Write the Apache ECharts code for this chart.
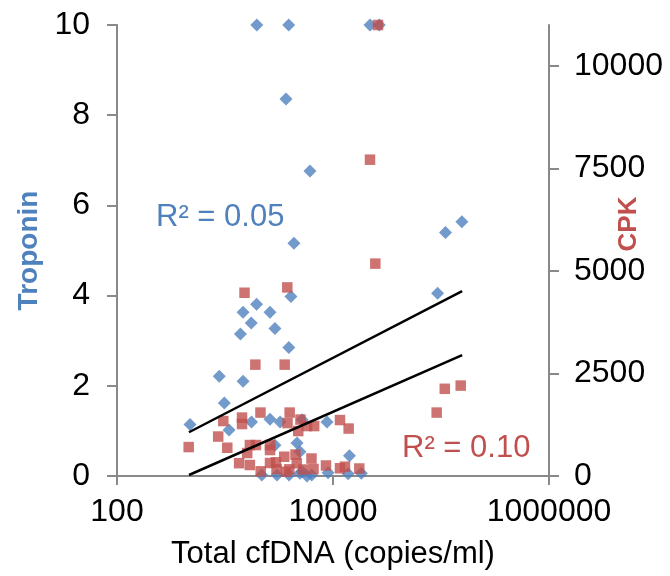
<!DOCTYPE html>
<html>
<head>
<meta charset="utf-8">
<script src="https://cdn.jsdelivr.net/npm/echarts@6.0.0/dist/echarts.min.js"></script>
<style>
  html, body { margin: 0; padding: 0; background: #fff; }
  #chart { width: 670px; height: 576px; }
</style>
</head>
<body>
<div id="chart"></div>
<script>
// Troponin (left axis) against total cfDNA
const troponinDNA = [1970, 3890, 22000, 26800, 3670, 6120, 4350, 110000, 156000, 93000,
  4080, 1960, 1470, 2610, 1750, 2900, 1390, 3900, 885, 1470,
  985, 474, 1090, 1760, 2610, 3240, 5170, 8800, 4640, 4940,
  2900, 14200, 2190, 3030, 3920, 5170, 6350, 9000, 13800, 18300,
  4950, 5740];
const troponinValues = [10, 10, 10, 10, 8.36, 6.76, 5.16, 5.40, 5.64, 4.05,
  3.98, 3.81, 3.63, 3.63, 3.39, 3.27, 3.15, 2.85, 2.21, 2.10,
  1.62, 1.14, 1.02, 1.20, 1.26, 1.20, 1.25, 1.20, 0.73, 0.54,
  0.68, 0.45, 0.02, 0.02, 0.02, 0.10, 0.02, 0.07, 0.05, 0.06,
  0.06, 0.0];

// CPK (right axis) against total cfDNA
const cpkDNA = [26100, 22000, 24650, 1516, 3775, 1910, 3570, 108400, 152200, 91200,
  2130, 1437, 1437, 964, 3970, 3790, 5000, 4765, 5745, 6695,
  11610, 13960, 865, 461, 1050, 1700, 1935, 2610, 1605, 2610,
  1351, 1700, 2140, 2965, 3540, 4495, 3000, 3940, 5310, 6320,
  6600, 8610, 4613, 12910, 17520, 3675, 2610, 11610];
const cpkValues = [11000, 7715, 5180, 4470, 4600, 2716, 2716, 2127, 2205, 1547,
  1547, 1425, 1267, 1340, 1547, 1291, 1376, 1096, 1218, 1218,
  1364, 1157, 962, 706, 689, 755, 755, 755, 560, 633,
  312, 268, 114, 334, 470, 524, 166, 163, 158, 426,
  171, 256, 309, 227, 183, 105, 317, 188];

// logarithmic trend lines, end points
const trendDNA = [464, 157000];
const troponinTrend = [0.97, 4.10];
const cpkTrend = [24, 2950];

const xTicks = [100, 10000, 1000000];
const cpkTicks = [0, 2500, 5000, 7500, 10000];

const FONT = "'Liberation Sans', Arial, sans-serif";
const BLUE = '#4F81BD';
const RED = '#C0504D';
const AXIS = '#898989';

const pairs = (xs, ys) => xs.map((x, i) => [x, ys[i]]);

const chart = echarts.init(document.getElementById('chart'));
chart.setOption({
  animation: false,
  textStyle: { fontFamily: FONT },
  grid: { left: 117, right: 121, top: 25, bottom: 100, containLabel: false },
  xAxis: {
    type: 'log',
    logBase: 10,
    min: 100,
    max: 1000000,
    name: 'Total cfDNA (copies/ml)',
    nameLocation: 'middle',
    nameGap: 63,
    nameTextStyle: { fontSize: 31, color: '#000', fontFamily: FONT },
    axisLine: { lineStyle: { color: AXIS, width: 2 } },
    axisTick: { show: true, length: 9, lineStyle: { color: AXIS, width: 2 }, customValues: xTicks },
    axisLabel: { fontSize: 32, color: '#000', margin: 20, customValues: xTicks,
      formatter: (v) => String(Math.round(v)) },
    splitLine: { show: false },
    minorTick: { show: false }
  },
  yAxis: [
    {
      type: 'value',
      min: 0,
      max: 10,
      interval: 2,
      name: 'Troponin',
      nameLocation: 'middle',
      nameGap: 74,
      nameTextStyle: { fontSize: 28, fontWeight: 'bold', color: BLUE, fontFamily: FONT },
      axisLine: { show: true, lineStyle: { color: AXIS, width: 2 } },
      axisTick: { show: true, length: 10, lineStyle: { color: AXIS, width: 2 } },
      axisLabel: { fontSize: 32, color: '#000', margin: 27 },
      splitLine: { show: false }
    },
    {
      type: 'value',
      position: 'right',
      min: 0,
      max: 11000,
      axisLine: { show: true, lineStyle: { color: AXIS, width: 2 } },
      axisTick: { show: true, length: 10, lineStyle: { color: AXIS, width: 2 }, customValues: cpkTicks },
      axisLabel: { fontSize: 32, color: '#000', margin: 25, customValues: cpkTicks,
        formatter: (v) => String(v) },
      splitLine: { show: false }
    }
  ],
  series: [
    {
      name: 'Troponin',
      type: 'scatter',
      yAxisIndex: 0,
      symbol: 'diamond',
      symbolSize: 13,
      clip: false,
      itemStyle: { color: BLUE },
      data: pairs(troponinDNA, troponinValues)
    },
    {
      name: 'CPK',
      type: 'scatter',
      yAxisIndex: 1,
      symbol: 'rect',
      symbolSize: 10.5,
      clip: false,
      itemStyle: { color: RED },
      data: pairs(cpkDNA, cpkValues)
    },
    {
      name: 'Troponin trend',
      type: 'line',
      yAxisIndex: 0,
      showSymbol: false,
      lineStyle: { color: '#000', width: 2.5 },
      data: pairs(trendDNA, troponinTrend)
    },
    {
      name: 'CPK trend',
      type: 'line',
      yAxisIndex: 1,
      showSymbol: false,
      lineStyle: { color: '#000', width: 2.5 },
      data: pairs(trendDNA, cpkTrend)
    }
  ],
  graphic: [
    {
      type: 'text', left: 156, top: 202,
      style: { text: 'R² = 0.05', fill: BLUE, font: '31px ' + FONT }
    },
    {
      type: 'text', left: 402, top: 433,
      style: { text: 'R² = 0.10', fill: RED, font: '31px ' + FONT }
    },
    {
      type: 'text', x: 629, y: 224, rotation: Math.PI / 2,
      style: { text: 'CPK', fill: RED, font: 'bold 26px ' + FONT, align: 'center', verticalAlign: 'middle' }
    }
  ]
});
</script>
</body>
</html>
